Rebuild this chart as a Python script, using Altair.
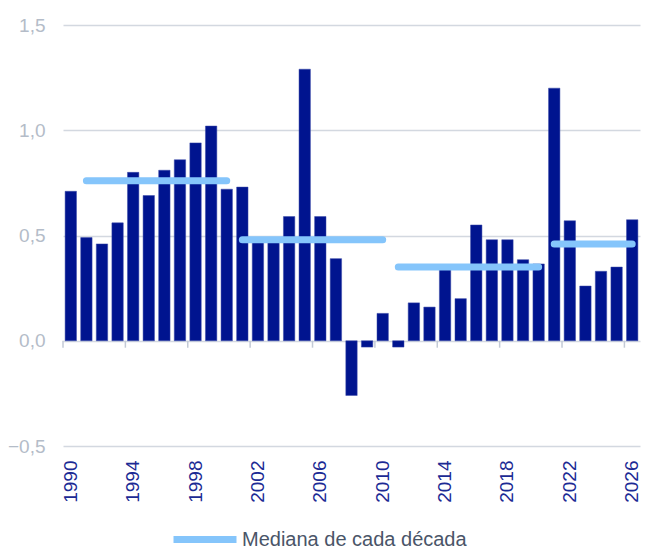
import altair as alt
import pandas as pd

years = list(range(1990, 2027))
values = [0.71, 0.49, 0.46, 0.56, 0.80, 0.69, 0.81, 0.86, 0.94, 1.02,
          0.72, 0.73, 0.48, 0.48, 0.59, 1.29, 0.59, 0.39, -0.26, -0.03,
          0.13, -0.03, 0.18, 0.16, 0.34, 0.20, 0.55, 0.48, 0.48, 0.385,
          0.365, 1.20, 0.57, 0.26, 0.33, 0.35, 0.575]

med_start = [1991, 2001, 2011, 2021]
med_end = [2000, 2010, 2020, 2026]
med_value = [0.76, 0.48, 0.35, 0.46]
med_label = "Mediana de cada década"

tick_years = list(range(1990, 2027, 4))

FONT = "Liberation Sans"
BAR = "#00148f"
LINE = "#85c5fb"

bars_df = pd.DataFrame({"year": years, "value": values})
med_df = pd.DataFrame({"start": med_start, "end": med_end, "value": med_value,
                       "serie": [med_label] * len(med_start)})
ticks_df = pd.DataFrame({"year": tick_years, "y0": [0.0] * len(tick_years),
                         "y1": [-0.033] * len(tick_years)})

W = 577
BW = W / len(years)

xscale = alt.Scale(domain=years, paddingInner=0.27, paddingOuter=0.135)
yscale = alt.Scale(domain=[-0.5, 1.5], nice=False)

xaxis = alt.Axis(values=tick_years, labelAngle=-90, labelFontSize=19, labelFont=FONT,
                 labelColor="#1b2a94", domain=False, ticks=False, grid=False,
                 labelPadding=14, title=None)
yaxis = alt.Axis(values=[-0.5, 0, 0.5, 1.0, 1.5],
                 labelExpr="replace(format(datum.value, '.1f'), '.', ',')",
                 labelFontSize=19, labelFont=FONT, labelColor="#b4bcc8",
                 domain=False, ticks=False, grid=True, gridColor="#d3d8e0",
                 gridWidth=1.5, labelPadding=18, title=None)

bars = alt.Chart(bars_df).mark_bar(color=BAR, stroke="#3b4aa8", strokeWidth=0.5).encode(
    x=alt.X("year:O", scale=xscale, axis=xaxis),
    y=alt.Y("value:Q", scale=yscale, axis=yaxis),
)

ticks = alt.Chart(ticks_df).mark_rule(color="#c3cad6", strokeWidth=1.5, xOffset=-BW / 2).encode(
    x=alt.X("year:O", scale=xscale),
    y=alt.Y("y0:Q", scale=yscale),
    y2="y1:Q",
)

med = alt.Chart(med_df).mark_rule(strokeWidth=7, strokeCap="round").encode(
    x=alt.X("start:O", scale=xscale),
    x2="end:O",
    y=alt.Y("value:Q", scale=yscale),
    stroke=alt.Stroke("serie:N", scale=alt.Scale(range=[LINE]),
                      legend=alt.Legend(orient="none", legendX=128.5, legendY=501,
                                        title=None, symbolType="M-3.15,0H3.15",
                                        symbolSize=400, symbolStrokeWidth=7,
                                        labelFontSize=20, labelFont=FONT,
                                        labelColor="#4a5568", padding=0,
                                        labelOffset=23.5, labelLimit=500)),
)

chart = alt.layer(ticks, bars, med).properties(
    width=W, height=421,
    autosize=alt.AutoSizeParams(type="none"),
    padding={"left": 55, "top": 17, "right": 2, "bottom": 101},
).configure_view(stroke=None)

chart.save("out.html", embed_options={"renderer": "svg", "actions": False})
